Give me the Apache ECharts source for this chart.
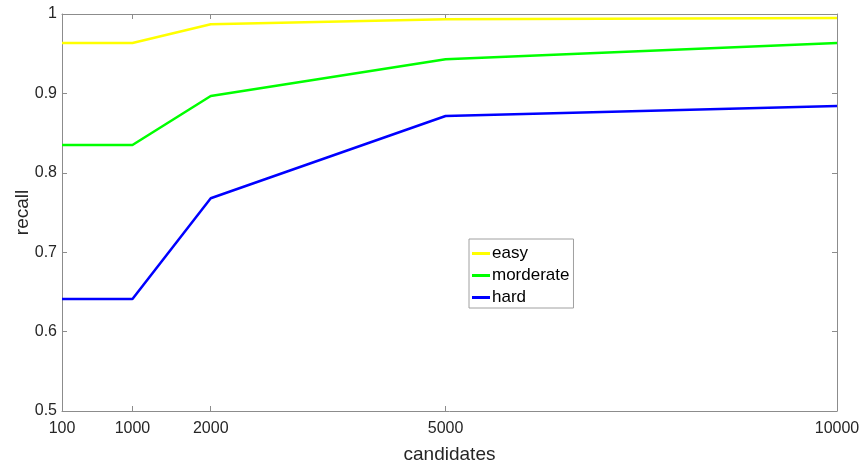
<!DOCTYPE html>
<html><head><meta charset="utf-8">
<script src="https://cdn.jsdelivr.net/npm/echarts@6/dist/echarts.min.js"></script>
<style>html,body{margin:0;padding:0;background:#fff}#c{width:863px;height:467px}</style>
</head><body><div id="c"></div>
<script>
const candidates = [100, 1000, 2000, 5000, 10000];
const xTicks = [100, 1000, 2000, 5000, 10000];
const easy = [0.9635, 0.9635, 0.987, 0.9935, 0.995];
const moderate = [0.835, 0.835, 0.8967, 0.943, 0.9635];
const hard = [0.641, 0.641, 0.768, 0.8715, 0.884];
const seriesNames = ['easy', 'morderate', 'hard'];
const colors = ['#ffff00', '#00ff00', '#0000ff'];

const font = 'Liberation Sans, Arial, sans-serif';
const axisColor = '#8c8c8c';
const textColor = '#262626';
const chart = echarts.init(document.getElementById('c'));
const pair = arr => candidates.map((c, i) => [c, arr[i]]);
chart.setOption({
  animation: false,
  grid: {left: 62, right: 26, top: 14, bottom: 56, containLabel: false, outerBoundsMode: 'none'},
  legend: {
    orient: 'vertical', left: 469, top: 239,
    data: seriesNames.map(n => ({name: n})),
    icon: 'rect', itemWidth: 18, itemHeight: 3, itemGap: 5,
    borderColor: '#a0a0a0', borderWidth: 1, padding: [6, 4, 2, 3],
    textStyle: {fontFamily: font, fontSize: 17, color: '#000', padding: [0, 0, 0, -3]},
    backgroundColor: '#fff'
  },
  xAxis: [{
    type: 'value', min: 100, max: 10000, name: 'candidates', nameLocation: 'middle', nameGap: 34,
    nameMoveOverlap: false,
    nameTextStyle: {fontFamily: font, fontSize: 19, color: textColor},
    axisLine: {lineStyle: {color: axisColor}},
    axisTick: {inside: true, length: 5, customValues: xTicks, lineStyle: {color: axisColor}},
    axisLabel: {customValues: xTicks, fontFamily: font, fontSize: 16, color: textColor, margin: 10,
      formatter: v => String(v)},
    splitLine: {show: false}
  }, {
    type: 'value', min: 100, max: 10000, position: 'top',
    axisLine: {lineStyle: {color: axisColor}},
    axisTick: {inside: true, length: 5, customValues: xTicks, lineStyle: {color: axisColor}},
    axisLabel: {show: false}, splitLine: {show: false}
  }],
  yAxis: [{
    type: 'value', min: 0.5, max: 1, interval: 0.1, name: 'recall', nameLocation: 'middle', nameGap: 30,
    nameMoveOverlap: false,
    nameTextStyle: {fontFamily: font, fontSize: 19, color: textColor},
    axisLine: {show: true, lineStyle: {color: axisColor}},
    axisTick: {show: true, inside: true, length: 5, lineStyle: {color: axisColor}},
    axisLabel: {fontFamily: font, fontSize: 16, color: textColor, margin: 5,
      formatter: v => (Math.abs(v - 1) < 1e-9 ? '1' : v.toFixed(1))},
    splitLine: {show: false}
  }, {
    type: 'value', min: 0.5, max: 1, interval: 0.1, position: 'right',
    axisLine: {show: true, lineStyle: {color: axisColor}},
    axisTick: {show: true, inside: true, length: 5, lineStyle: {color: axisColor}},
    axisLabel: {show: false}, splitLine: {show: false}
  }],
  series: [easy, moderate, hard].map((d, i) => ({
    name: seriesNames[i], type: 'line', data: pair(d), showSymbol: false, symbol: 'none',
    lineStyle: {color: colors[i], width: 2.5}, itemStyle: {color: colors[i]}
  }))
});
</script></body></html>
